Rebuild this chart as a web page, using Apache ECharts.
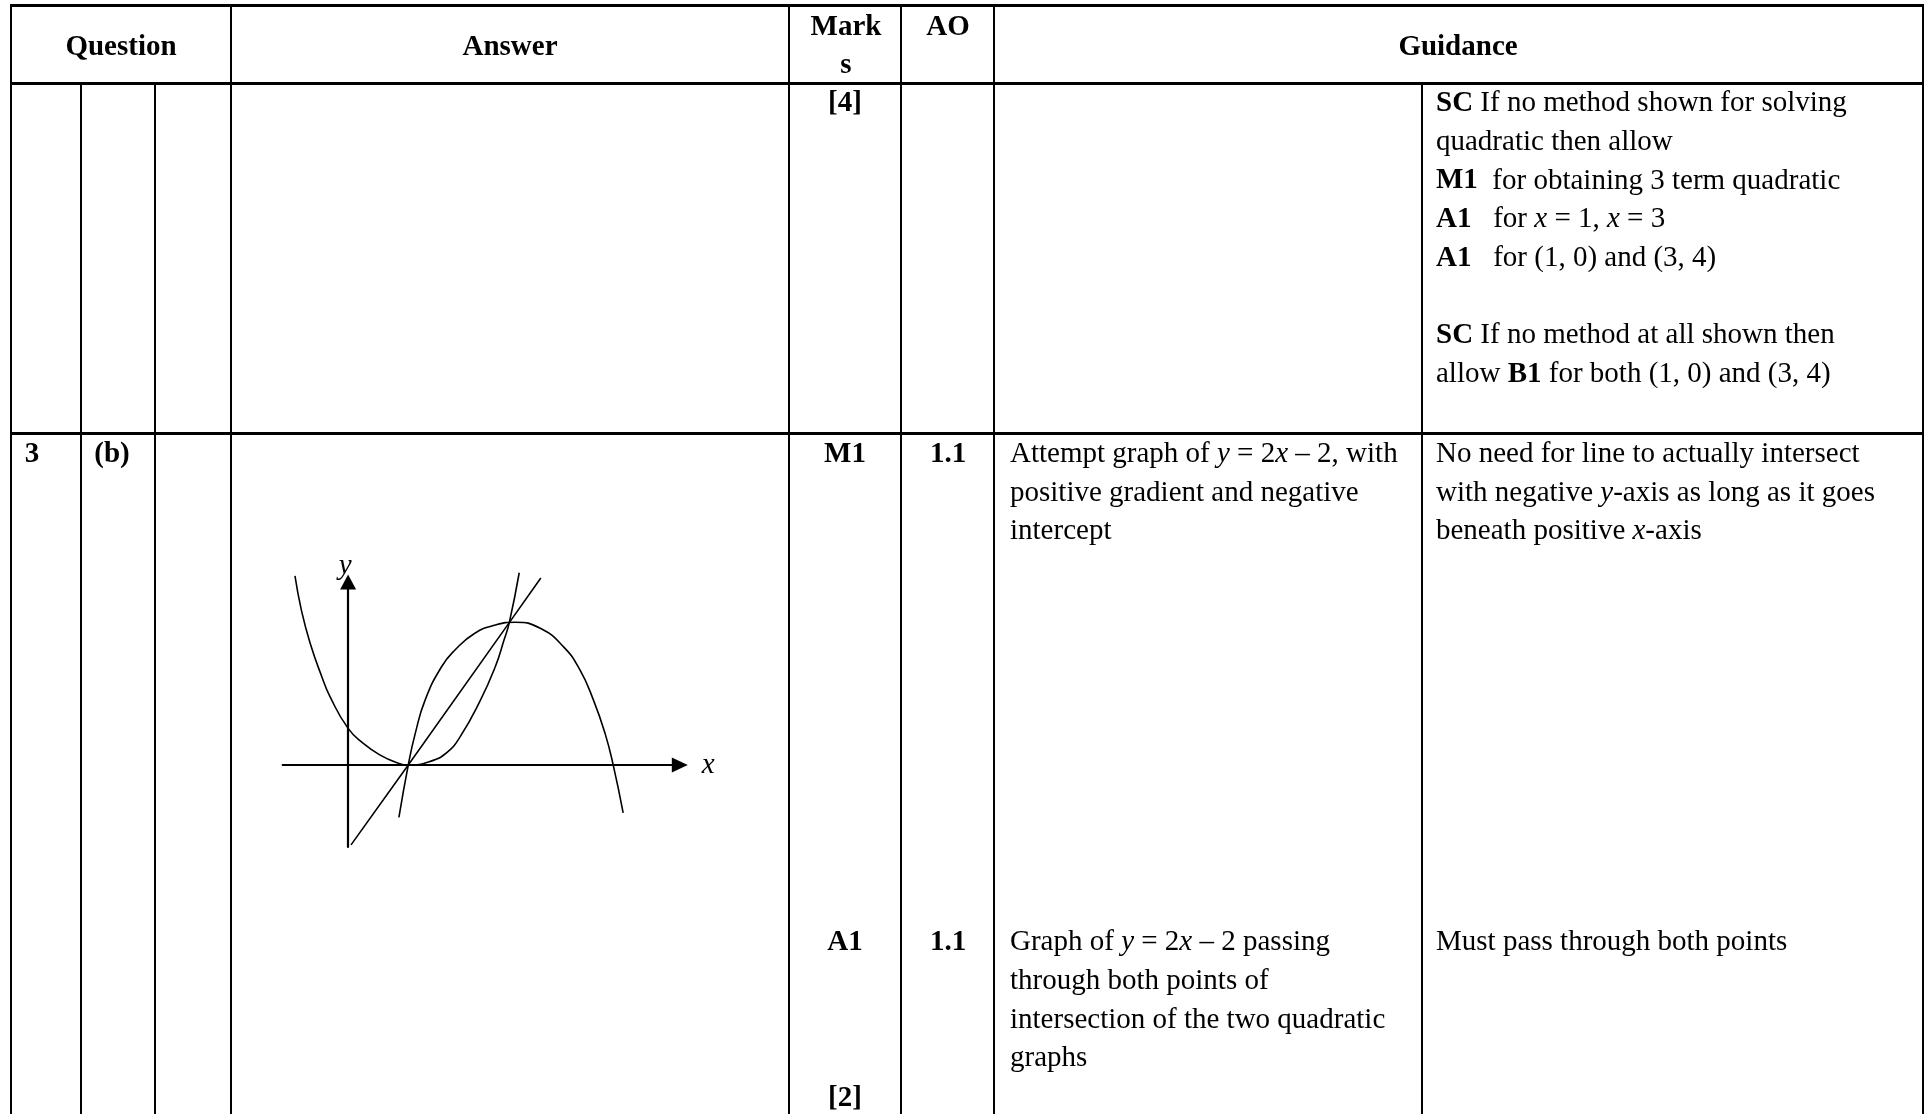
<!DOCTYPE html>
<html>
<head>
<meta charset="utf-8">
<title>Question 3(b) mark scheme</title>
<script src="https://cdn.jsdelivr.net/npm/echarts@6/dist/echarts.min.js"></script>
<style>
  html, body { margin: 0; padding: 0; background: #fff; }
  #chart { width: 1930px; height: 1114px; }
</style>
</head>
<body>
<div id="chart"></div>
<script>
// sketch curves (sketch units, y-axis at x = 0, x-axis at y = 0)
const upCurve = [
  [-0.91, 5.31], [-0.80, 4.35], [-0.65, 3.42], [-0.45, 2.48], [-0.31, 1.92], [0, 1.03],
  [0.26, 0.61], [0.55, 0.28], [0.83, 0.07], [1.03, 0], [1.40, 0.10], [1.69, 0.35],
  [1.92, 0.80], [2.26, 1.80], [2.52, 2.76], [2.67, 3.51], [2.76, 4.00], [2.93, 5.40]
]
const downCurve = [
  [0.87, -1.47], [1.03, 0], [1.15, 0.89], [1.32, 1.83], [1.60, 2.76], [1.83, 3.23],
  [2.17, 3.70], [2.52, 3.93], [2.86, 4.01], [3.29, 3.84], [3.69, 3.32], [3.97, 2.67],
  [4.20, 1.83], [4.40, 0.89], [4.54, 0], [4.71, -1.34]
]
const straightLine = [[0.05, -2.24], [1.03, 0], [2.76, 4.00], [3.30, 5.25]]
const xRange = [-1.12, 5.68]
const yRange = [-2.3, 5.14]

// table text
const headerCells = ['Question', 'Answer', 'Mark', 's', 'AO', 'Guidance']
const part3aMarks = ['[4]']
const part3aGuidance = [
  '{b|SC} If no method shown for solving',
  'quadratic then allow',
  '{b|M1}  for obtaining 3 term quadratic',
  '{b|A1}   for {i|x} = 1, {i|x} = 3',
  '{b|A1}   for (1, 0) and (3, 4)',
  '',
  '{b|SC} If no method at all shown then',
  'allow {b|B1} for both (1, 0) and (3, 4)'
]
const part3bLabels = ['3', '(b)']
const part3bMarks = ['M1', 'A1', '[2]']
const part3bAO = ['1.1', '1.1']
const m1Answer = [
  'Attempt graph of {i|y} = 2{i|x} \u2013 2, with',
  'positive gradient and negative',
  'intercept'
]
const m1Guidance = [
  'No need for line to actually intersect',
  'with negative {i|y}-axis as long as it goes',
  'beneath positive {i|x}-axis'
]
const a1Answer = [
  'Graph of {i|y} = 2{i|x} \u2013 2 passing',
  'through both points of',
  'intersection of the two quadratic',
  'graphs'
]
const a1Guidance = ['Must pass through both points']

const FONT = "'Liberation Serif', 'Times New Roman', serif"
const FS = 29
const RICH = {
  b: { fontFamily: FONT, fontSize: FS, fontWeight: 'bold', fill: '#000' },
  i: { fontFamily: FONT, fontSize: FS, fontStyle: 'italic', fill: '#000' }
}

function text(str, x, baseline, align, bold) {
  return {
    type: 'text',
    x: x,
    y: baseline - 6.5,
    silent: true,
    style: {
      text: str,
      fontFamily: FONT,
      fontSize: FS,
      fontWeight: bold ? 'bold' : 'normal',
      fill: '#000',
      align: align,
      textAlign: align,
      verticalAlign: 'middle',
      textVerticalAlign: 'middle',
      rich: RICH
    }
  }
}

function rule(x1, y1, x2, y2, w) {
  return {
    type: 'line',
    silent: true,
    shape: { x1: x1, y1: y1, x2: x2, y2: y2 },
    style: { stroke: '#000', lineWidth: w }
  }
}

function buildGraphic() {
  const els = []
  // horizontal rules
  ;[5.5, 83.5, 433.5].forEach(y => els.push(rule(10, y, 1924, y, 3)))
  // vertical rules
  ;[11, 231, 789, 901, 994, 1923].forEach(x => els.push(rule(x, 4, x, 1114, 2)))
  ;[81, 155, 1422].forEach(x => els.push(rule(x, 83.5, x, 1114, 2)))

  // header
  els.push(text(headerCells[0], 121, 54, 'center', true))
  els.push(text(headerCells[1], 510, 54, 'center', true))
  els.push(text(headerCells[2], 846, 34, 'center', true))
  els.push(text(headerCells[3], 846, 72, 'center', true))
  els.push(text(headerCells[4], 948, 34, 'center', true))
  els.push(text(headerCells[5], 1458, 54, 'center', true))

  // part (a) tail
  els.push(text(part3aMarks[0], 845, 110, 'center', true))
  part3aGuidance.forEach((s, i) => {
    if (s) els.push(text(s, 1436, 110 + 38.7 * i, 'left', false))
  })

  // part (b)
  els.push(text(part3bLabels[0], 32, 461, 'center', true))
  els.push(text(part3bLabels[1], 112, 461, 'center', true))
  els.push(text(part3bMarks[0], 845, 461, 'center', true))
  els.push(text(part3bAO[0], 948, 461, 'center', true))
  m1Answer.forEach((s, i) => els.push(text(s, 1010, 461 + 38.6 * i, 'left', false)))
  m1Guidance.forEach((s, i) => els.push(text(s, 1436, 461 + 38.6 * i, 'left', false)))

  els.push(text(part3bMarks[1], 845, 949, 'center', true))
  els.push(text(part3bAO[1], 948, 949, 'center', true))
  a1Answer.forEach((s, i) => els.push(text(s, 1010, 949 + 38.7 * i, 'left', false)))
  a1Guidance.forEach((s, i) => els.push(text(s, 1436, 949 + 38.7 * i, 'left', false)))
  els.push(text(part3bMarks[2], 845, 1105, 'center', true))
  return els
}

const curveStyle = { color: '#000', width: 1.6 }

const chart = echarts.init(document.getElementById('chart'), null, { renderer: 'canvas' })
chart.setOption({
  backgroundColor: '#fff',
  animation: false,
  grid: { left: 282.7, top: 582, width: 397.1, height: 265 },
  xAxis: {
    type: 'value',
    min: xRange[0],
    max: xRange[1],
    axisLine: {
      show: true,
      onZero: true,
      lineStyle: { color: '#000', width: 2.2 },
      symbol: ['none', 'triangle'],
      symbolSize: [15, 16]
    },
    axisTick: { show: false },
    axisLabel: { show: false },
    splitLine: { show: false },
    name: 'x',
    nameLocation: 'end',
    nameGap: 22,
    nameTextStyle: {
      fontFamily: FONT, fontSize: FS, fontStyle: 'italic', color: '#000',
      padding: [0, 0, 9, 0]
    }
  },
  yAxis: {
    type: 'value',
    min: yRange[0],
    max: yRange[1],
    axisLine: {
      show: true,
      onZero: true,
      lineStyle: { color: '#000', width: 2.2 },
      symbol: ['none', 'triangle'],
      symbolSize: [16, 15]
    },
    axisTick: { show: false },
    axisLabel: { show: false },
    splitLine: { show: false },
    name: 'y',
    nameLocation: 'end',
    nameGap: 1,
    nameTextStyle: {
      fontFamily: FONT, fontSize: FS, fontStyle: 'italic', color: '#000',
      padding: [0, 6, 0, 0]
    }
  },
  series: [
    {
      type: 'line', data: upCurve, showSymbol: false, clip: false, silent: true,
      smooth: 0.5, lineStyle: curveStyle
    },
    {
      type: 'line', data: downCurve, showSymbol: false, clip: false, silent: true,
      smooth: 0.5, lineStyle: curveStyle
    },
    {
      type: 'line', data: straightLine, showSymbol: false, clip: false, silent: true,
      smooth: false, lineStyle: curveStyle
    }
  ],
  graphic: { elements: buildGraphic() }
})
</script>
</body>
</html>
